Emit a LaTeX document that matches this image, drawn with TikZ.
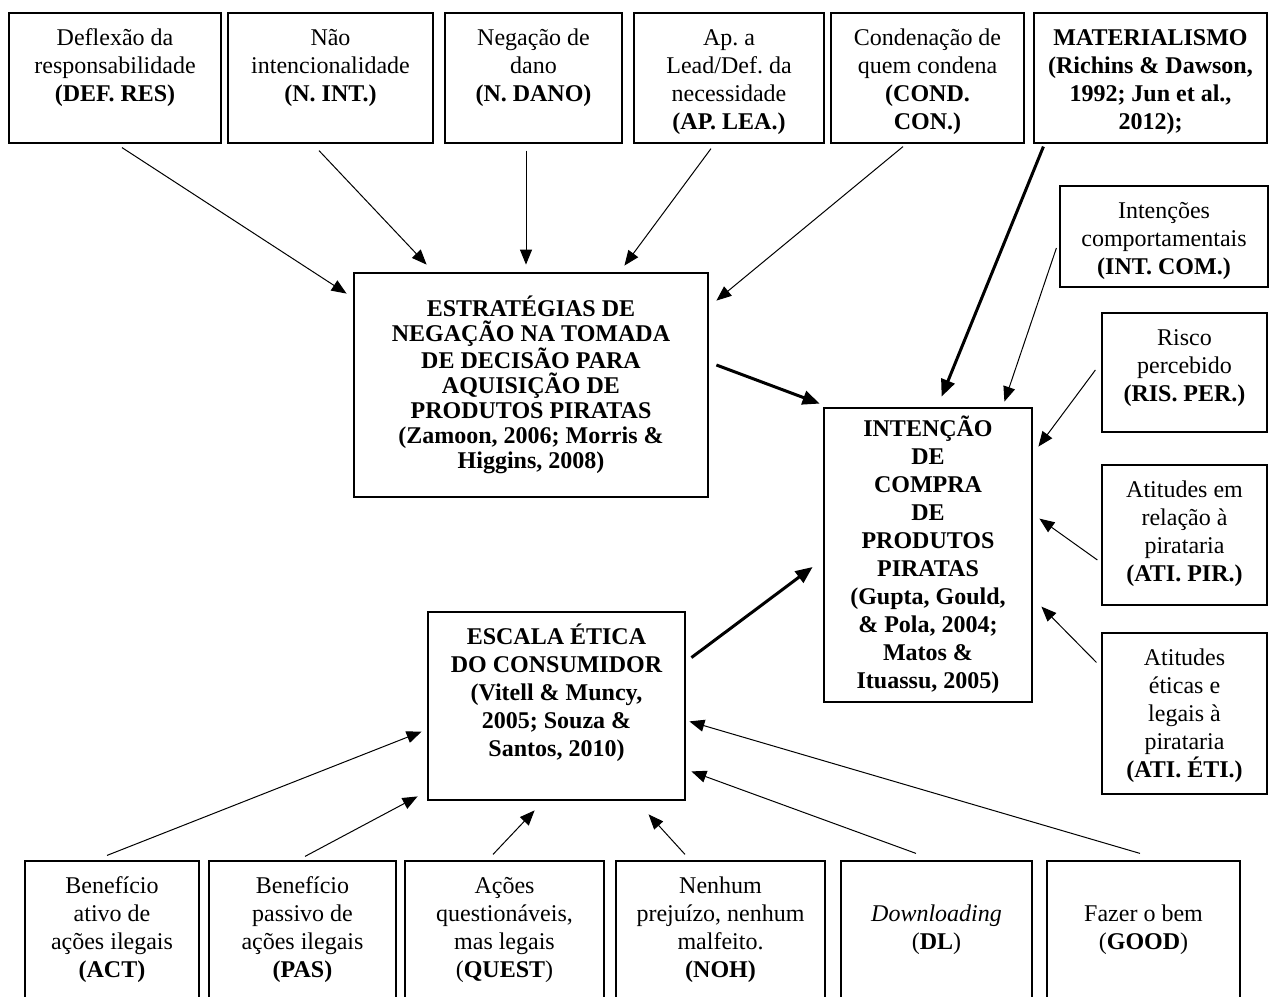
\documentclass[tikz,border=0pt]{standalone}
\usepackage{fontspec}
\setmainfont{Liberation Serif}
\usepackage{tikz}
\usetikzlibrary{arrows.meta,calc}

\newcommand{\quadro}[3]{\parbox[c][#2][t]{#1}{\centering\frenchspacing\rule{0pt}{16pt}#3}}
\newcommand{\quadroc}[3]{\parbox[c][#2][c]{#1}{\centering\frenchspacing #3}}

\begin{document}
\begin{tikzpicture}[x=0.5pt, y=-0.5pt,
        fator/.style={draw, line width=0.6pt, inner sep=0pt, font=\fontsize{12}{14}\selectfont},
        construto/.style={draw, line width=1.4pt, inner sep=0pt, font=\bfseries\fontsize{12}{14}\selectfont},
        seta/.style={-{Triangle[length=7.5pt,width=6pt]}, line width=0.5pt},
        setaforte/.style={-{Triangle[length=8.5pt,width=7pt]}, line width=1.5pt}]
            \useasboundingbox (0,0) rectangle (1269,996);

            % estrategias de negacao
            \node[fator] (defres) at (115,78) {\quadro{106pt}{65pt}{Deflexão da\\ responsabilidade\\ \textbf{(DEF. RES)}}};
            \node[fator] (nint) at (330.5,78) {\quadro{102.5pt}{65pt}{Não\\ intencionalidade\\ \textbf{(N. INT.)}}};
            \node[fator] (ndano) at (533.5,78) {\quadro{88.5pt}{65pt}{Negação de\\ dano\\ \textbf{(N. DANO)}}};
            \node[fator] (aplea) at (729,78) {\quadro{95pt}{65pt}{Ap. a\\ Lead/Def. da\\ necessidade\\ \textbf{(AP. LEA.)}}};
            \node[fator] (condcon) at (927.5,78) {\quadro{96.5pt}{65pt}{Condenação de\\ quem condena\\ \textbf{(COND.}\\ \textbf{CON.)}}};
            \node[fator, font=\bfseries\fontsize{12}{14}\selectfont] (mat) at (1150.5,78) {\quadro{116.5pt}{65pt}{MATERIALISMO\\ (Richins \& Dawson,\\ 1992; Jun et al.,\\ 2012);}};

            % fatores da direita
            \node[fator] (intcom) at (1164,236.5) {\quadro{104pt}{50.5pt}{Intenções\\ comportamentais\\ \textbf{(INT. COM.)}}};
            \node[fator] (risper) at (1184.5,372.5) {\quadro{82.5pt}{59.5pt}{Risco\\ percebido\\ \textbf{(RIS. PER.)}}};
            \node[fator] (atipir) at (1184.5,535) {\quadro{82.5pt}{70pt}{Atitudes em\\ relação à\\ pirataria\\ \textbf{(ATI. PIR.)}}};
            \node[fator] (atieti) at (1184.5,713.5) {\quadro{82.5pt}{80.5pt}{Atitudes\\ éticas e\\ legais à\\ pirataria\\ \textbf{(ATI. ÉTI.)}}};

            % construtos
            \node[construto, font=\bfseries\fontsize{12}{12.5}\selectfont] (estr) at (531,385) {\quadroc{177pt}{112pt}{ESTRATÉGIAS DE\\ NEGAÇÃO NA TOMADA\\ DE DECISÃO PARA\\ AQUISIÇÃO DE\\ PRODUTOS PIRATAS\\ (Zamoon, 2006; Morris \&\\ Higgins, 2008)}};
            \node[construto] (intencao) at (928,555) {\quadroc{104pt}{147pt}{INTENÇÃO\\ DE\\ COMPRA\\ DE\\ PRODUTOS\\ PIRATAS\\ (Gupta, Gould,\\ \& Pola, 2004;\\ Matos \&\\ Ituassu, 2005)}};
            \node[construto] (escala) at (556.5,706) {\quadro{128.5pt}{94pt}{ESCALA ÉTICA\\ DO CONSUMIDOR\\ (Vitell \& Muncy,\\ 2005; Souza \&\\ Santos, 2010)}};

            % escala etica
            \node[fator] (act) at (112,929.5) {\quadroc{87pt}{68.5pt}{Benefício\\ ativo de\\ ações ilegais\\ \textbf{(ACT)}}};
            \node[fator] (pas) at (302.5,929.5) {\quadroc{93.5pt}{68.5pt}{Benefício\\ passivo de\\ ações ilegais\\ \textbf{(PAS)}}};
            \node[fator] (quest) at (504.5,929.5) {\quadroc{99.5pt}{68.5pt}{Ações\\ questionáveis,\\ mas legais\\ (\textbf{QUEST})}};
            \node[fator] (noh) at (720.5,929.5) {\quadroc{104.5pt}{68.5pt}{Nenhum\\ prejuízo, nenhum\\ malfeito.\\ \textbf{(NOH)}}};
            \node[fator] (dl) at (936.5,929.5) {\quadroc{95.5pt}{68.5pt}{\textit{Downloading}\\ (\textbf{DL})}};
            \node[fator] (good) at (1143.5,929.5) {\quadroc{96.5pt}{68.5pt}{Fazer o bem\\ (\textbf{GOOD})}};

            \draw[seta] ($(defres.south)+(7,4)$) -- ($(estr.north west)+(-6,22)$);
            \draw[seta] ($(nint.south)+(-11.5,7)$) -- ($(estr.north west)+(74,-7)$);
            \draw[seta] ($(ndano.south)+(-7.5,7)$) -- ($(estr.north)+(-5,-7)$);
            \draw[seta] ($(aplea.south)+(-18,5)$) -- ($(estr.north east)+(-85,-6)$);
            \draw[seta] ($(condcon.south)+(-24.5,3)$) -- ($(estr.north east)+(7,29)$);

            \draw[setaforte] ($(mat.south west)+(10,3)$) -- ($(intencao.north west)+(119,-10)$);
            \draw[seta] ($(intcom.west)+(-3,11.5)$) -- ($(intencao.north east)+(-29,-5)$);
            \draw[seta] ($(risper.west)+(-6,-2.5)$) -- ($(intencao.north east)+(5,40)$);
            \draw[seta] ($(atipir.west)+(-4,25)$) -- ($(intencao.north east)+(6,112)$);
            \draw[seta] ($(atieti.north west)+(-5,30)$) -- ($(intencao.north east)+(8,200)$);

            \draw[setaforte] ($(estr.east)+(7,-20)$) -- ($(intencao.north west)+(-3,-3)$);
            \draw[setaforte] ($(escala.north east)+(5,47)$) -- ($(intencao.west)+(-10,12)$);

            \draw[seta] ($(act.north)+(-5,-5)$) -- ($(escala.north west)+(-5,121)$);
            \draw[seta] ($(pas.north)+(2.5,-4)$) -- ($(escala.south west)+(-9,-5)$);
            \draw[seta] ($(quest.north)+(-11.5,-6)$) -- ($(escala.south west)+(108,9)$);
            \draw[seta] ($(noh.north)+(-35.5,-6)$) -- ($(escala.south west)+(222,13)$);
            \draw[seta] ($(dl.north)+(-20.5,-7)$) -- ($(escala.south east)+(5,-30)$);
            \draw[seta] ($(good.north)+(-3.5,-7)$) -- ($(escala.south east)+(3,-80)$);
        \end{tikzpicture}
\end{document}
